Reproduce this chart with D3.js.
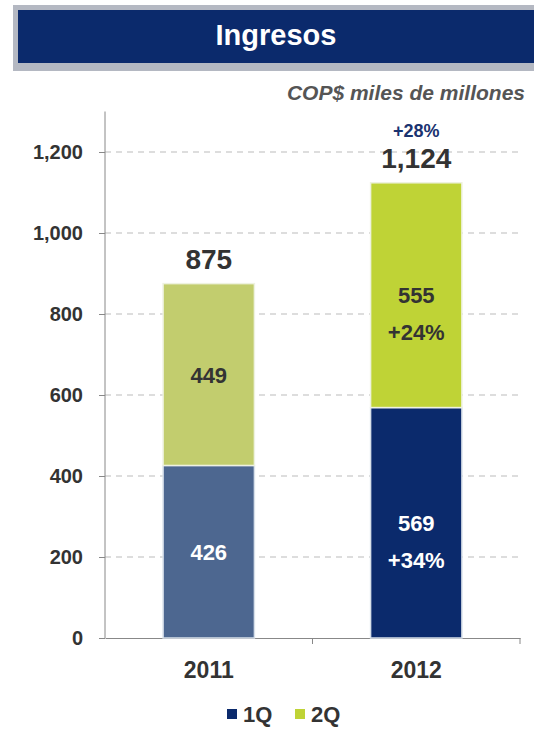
<!DOCTYPE html>
<html>
<head>
<meta charset="utf-8">
<script src="https://cdn.jsdelivr.net/npm/d3@7"></script>
<style>
  body { margin: 0; background: #fff; }
  text { font-family: "Liberation Sans", Arial, sans-serif; }
</style>
</head>
<body>
<div id="chart"></div>
<script>
// datos del gráfico
const years = ["2011", "2012"];
const q1 = [426, 569];
const q2 = [449, 555];
const totals = [875, 1124];
const q1Growth = ["", "+34%"];
const q2Growth = ["", "+24%"];
const totalGrowth = ["", "+28%"];
const yTicks = [0, 200, 400, 600, 800, 1000, 1200];
const seriesNames = ["1Q", "2Q"];

const width = 534, height = 730;
const margin = { top: 152, right: 14, bottom: 92, left: 105 };

const svg = d3.select("#chart").append("svg")
    .attr("width", width)
    .attr("height", height);

// barra de título
svg.append("rect").attr("x", 13).attr("y", 5).attr("width", 521).attr("height", 66).attr("fill", "#b4b8c2");
svg.append("rect").attr("x", 18).attr("y", 10).attr("width", 516).attr("height", 53).attr("fill", "#0b2a6c");
svg.append("text")
    .attr("x", 276).attr("y", 45)
    .attr("text-anchor", "middle")
    .attr("font-size", "29px").attr("font-weight", "bold")
    .attr("fill", "#fff")
    .text("Ingresos");

svg.append("text")
    .attr("x", 525).attr("y", 100)
    .attr("text-anchor", "end")
    .attr("font-size", "21px").attr("font-weight", "bold").attr("font-style", "italic")
    .attr("fill", "#555")
    .text("COP$ miles de millones");

const x = d3.scaleBand()
    .domain(years)
    .range([margin.left, width - margin.right])
    .paddingInner(0.56).paddingOuter(0.28);

const y = d3.scaleLinear()
    .domain([0, 1200])
    .range([height - margin.bottom, margin.top]);

// líneas de cuadrícula
svg.append("g")
    .selectAll("line")
    .data(yTicks.filter(d => d > 0))
    .enter().append("line")
    .attr("x1", margin.left).attr("x2", width - margin.right)
    .attr("y1", d => y(d)).attr("y2", d => y(d))
    .attr("stroke", "#bbb")
    .attr("stroke-dasharray", "6,5");

// eje Y
const yAxis = svg.append("g")
    .attr("transform", `translate(${margin.left},0)`)
    .call(d3.axisLeft(y).tickValues(yTicks).tickSize(6).tickPadding(16).tickFormat(d3.format(",")));
yAxis.select(".domain").attr("stroke", "#888").attr("d", `M0,${y(0)}V${y(1300)}`);
yAxis.selectAll(".tick line").attr("stroke", "#888");
yAxis.selectAll("text")
    .attr("font-size", "20px").attr("font-weight", "bold").attr("fill", "#333")
    .style("font-family", "Liberation Sans, Arial, sans-serif");

// eje X
const xAxis = svg.append("g")
    .attr("transform", `translate(0,${y(0)})`)
    .call(d3.axisBottom(x).tickSize(0).tickPadding(24));
xAxis.select(".domain").attr("stroke", "#888");
xAxis.selectAll("text")
    .attr("font-size", "23px").attr("font-weight", "bold").attr("fill", "#333")
    .style("font-family", "Liberation Sans, Arial, sans-serif");
// marcas de separación
const step = x.step();
[margin.left + step * 1.0, width - margin.right].forEach(px => {
    xAxis.append("line").attr("x1", px).attr("x2", px).attr("y1", 0).attr("y2", 6).attr("stroke", "#888");
});

// barras
const rows = years.map((yr, i) => ({ year: yr, q1: q1[i], q2: q2[i], total: totals[i], i }));
const colQ1 = ["#4d6790", "#0b2a6c"];
const colQ2 = ["#c2cd6e", "#bfd336"];

svg.selectAll(".bar1").data(rows).enter().append("rect")
    .attr("x", d => x(d.year)).attr("width", x.bandwidth())
    .attr("y", d => y(d.q1)).attr("height", d => y(0) - y(d.q1))
    .attr("fill", d => colQ1[d.i])
    .attr("stroke", "#d8e0ea").attr("stroke-width", 1.5);

svg.selectAll(".bar2").data(rows).enter().append("rect")
    .attr("x", d => x(d.year)).attr("width", x.bandwidth())
    .attr("y", d => y(d.q1 + d.q2)).attr("height", d => y(d.q1) - y(d.q1 + d.q2))
    .attr("fill", d => colQ2[d.i])
    .attr("stroke", "#eef2e0").attr("stroke-width", 1.5);

const cx = d => x(d.year) + x.bandwidth() / 2;

// etiquetas 1Q
svg.selectAll(".l1").data(rows).enter().append("text")
    .attr("x", cx)
    .attr("y", d => y(d.q1 / 2) + 8)
    .attr("text-anchor", "middle").attr("font-size", "22px").attr("font-weight", "bold")
    .attr("fill", "#fff")
    .text(d => d.q1);
svg.selectAll(".g1").data(rows.filter(d => q1Growth[d.i])).enter().append("text")
    .attr("x", cx).attr("y", d => y(d.q1 / 2) + 45)
    .attr("text-anchor", "middle").attr("font-size", "22px").attr("font-weight", "bold")
    .attr("fill", "#fff")
    .text(d => q1Growth[d.i]);

// etiquetas 2Q
svg.selectAll(".l2").data(rows).enter().append("text")
    .attr("x", cx)
    .attr("y", d => y(d.q1 + d.q2 / 2) + 8)
    .attr("text-anchor", "middle").attr("font-size", "22px").attr("font-weight", "bold")
    .attr("fill", "#333")
    .text(d => d.q2);
svg.selectAll(".g2").data(rows.filter(d => q2Growth[d.i])).enter().append("text")
    .attr("x", cx).attr("y", d => y(d.q1 + d.q2 / 2) + 45)
    .attr("text-anchor", "middle").attr("font-size", "22px").attr("font-weight", "bold")
    .attr("fill", "#333")
    .text(d => q2Growth[d.i]);

// totales
svg.selectAll(".tot").data(rows).enter().append("text")
    .attr("x", cx).attr("y", d => y(d.total) - 15)
    .attr("text-anchor", "middle").attr("font-size", "28px").attr("font-weight", "bold")
    .attr("fill", "#333")
    .text(d => d3.format(",")(d.total));
svg.selectAll(".tg").data(rows.filter(d => totalGrowth[d.i])).enter().append("text")
    .attr("x", cx).attr("y", d => y(d.total) - 46)
    .attr("text-anchor", "middle").attr("font-size", "18px").attr("font-weight", "bold")
    .attr("fill", "#1a3370")
    .text(d => totalGrowth[d.i]);

// leyenda
const legend = svg.append("g").attr("transform", "translate(227,720)");
const legCols = ["#0b2a6c", "#bfd336"];
const legX = [0, 68];
seriesNames.forEach((s, i) => {
    legend.append("rect").attr("x", legX[i]).attr("y", -11).attr("width", 10).attr("height", 10).attr("fill", legCols[i]);
    legend.append("text").attr("x", legX[i] + 16).attr("y", 2)
        .attr("font-size", "22px").attr("font-weight", "bold").attr("fill", "#333")
        .text(s);
});
</script>
</body>
</html>
